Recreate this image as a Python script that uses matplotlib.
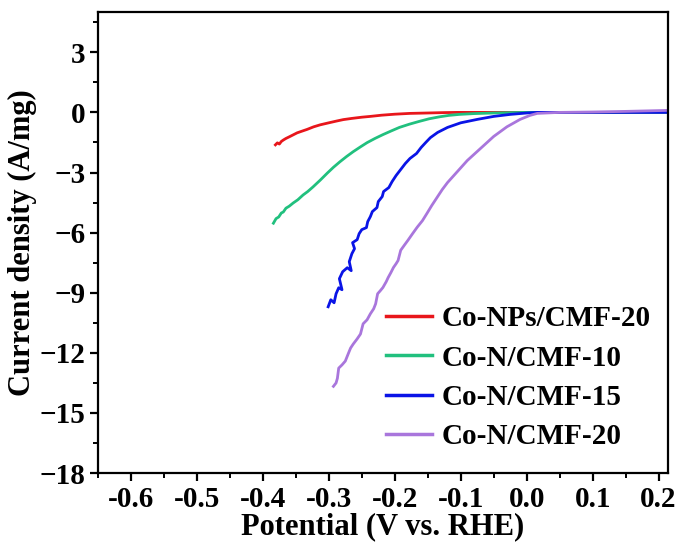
import numpy as np
import matplotlib
matplotlib.use("Agg")
import matplotlib.pyplot as plt
from matplotlib.ticker import MultipleLocator

plt.rcParams['font.family'] = ['Liberation Serif', 'DejaVu Serif']
plt.rcParams['font.weight'] = 'bold'

# LSV polarisation curves, potential (V vs. RHE) and current density (A/mg)
red_v = [-0.381, -0.378, -0.375, -0.372, -0.369, -0.365, -0.360, -0.354, -0.348, -0.341,
         -0.333, -0.323, -0.313, -0.300, -0.288, -0.278, -0.265, -0.250, -0.237, -0.220,
         -0.200, -0.177, -0.150, -0.125, -0.105, -0.05, 0.0, 0.1, 0.215]
red_j = [-1.62, -1.52, -1.58, -1.45, -1.38, -1.30, -1.22, -1.12, -1.02, -0.94,
         -0.85, -0.72, -0.62, -0.52, -0.43, -0.36, -0.30, -0.24, -0.20, -0.14,
         -0.09, -0.05, -0.03, -0.01, 0.0, 0.0, 0.0, 0.0, 0.0]

green_v = [-0.384, -0.380, -0.376, -0.372, -0.369, -0.365, -0.360, -0.354, -0.347, -0.339,
           -0.332, -0.324, -0.313, -0.302, -0.293, -0.283, -0.273, -0.263, -0.252, -0.242,
           -0.230, -0.218, -0.205, -0.193, -0.178, -0.163, -0.148, -0.132, -0.118, -0.102,
           -0.08, -0.05, -0.02, 0.0, 0.1, 0.215]
green_j = [-5.53, -5.30, -5.22, -5.02, -4.97, -4.78, -4.68, -4.52, -4.36, -4.12,
           -3.95, -3.72, -3.38, -3.02, -2.74, -2.46, -2.20, -1.96, -1.72, -1.51,
           -1.30, -1.11, -0.92, -0.75, -0.59, -0.45, -0.32, -0.22, -0.15, -0.10,
           -0.06, -0.03, -0.01, 0.0, 0.0, 0.0]

blue_v = [-0.301, -0.297, -0.292, -0.289, -0.285, -0.280, -0.284, -0.279, -0.272, -0.266,
          -0.269, -0.265, -0.261, -0.264, -0.257, -0.254, -0.250, -0.243, -0.241, -0.237,
          -0.234, -0.227, -0.225, -0.219, -0.217, -0.209, -0.204, -0.198, -0.191, -0.184,
          -0.177, -0.167, -0.160, -0.153, -0.146, -0.135, -0.120, -0.100, -0.075, -0.05,
          -0.025, 0.0, 0.016, 0.1, 0.215]
blue_j = [-9.70, -9.35, -9.50, -9.05, -8.75, -8.85, -8.30, -7.95, -7.75, -7.90,
          -7.45, -7.05, -6.80, -6.50, -6.35, -6.05, -5.85, -5.75, -5.45, -5.20,
          -4.95, -4.75, -4.45, -4.20, -3.95, -3.75, -3.45, -3.15, -2.85, -2.55,
          -2.30, -2.05, -1.75, -1.50, -1.26, -1.00, -0.75, -0.52, -0.35, -0.20,
          -0.10, -0.03, 0.0, 0.0, 0.0]

purple_v = [-0.293, -0.289, -0.287, -0.285, -0.280, -0.275, -0.270, -0.267, -0.263, -0.257,
            -0.252, -0.248, -0.242, -0.237, -0.232, -0.229, -0.226, -0.222, -0.218, -0.213,
            -0.210, -0.206, -0.202, -0.198, -0.195, -0.191, -0.186, -0.180, -0.173, -0.166,
            -0.158, -0.151, -0.144, -0.136, -0.128, -0.120, -0.105, -0.090, -0.070, -0.050,
            -0.030, -0.010, 0.005, 0.016, 0.05, 0.1, 0.15, 0.215]
purple_j = [-13.67, -13.50, -13.27, -12.76, -12.60, -12.41, -12.00, -11.76, -11.56, -11.30,
            -11.06, -10.55, -10.35, -10.05, -9.80, -9.55, -9.05, -8.90, -8.74, -8.45,
            -8.24, -8.00, -7.74, -7.55, -7.39, -6.88, -6.65, -6.38, -6.05, -5.73,
            -5.40, -5.03, -4.65, -4.25, -3.85, -3.50, -2.95, -2.40, -1.80, -1.20,
            -0.72, -0.35, -0.15, -0.05, 0.0, 0.02, 0.05, 0.10]

series = [
    ("Co-NPs/CMF-20", red_v, red_j, "#e8161b"),
    ("Co-N/CMF-10", green_v, green_j, "#21c07e"),
    ("Co-N/CMF-15", blue_v, blue_j, "#0a14e6"),
    ("Co-N/CMF-20", purple_v, purple_j, "#a976dc"),
]

fig = plt.figure(figsize=(6.78, 5.54), dpi=100)
ax = fig.add_axes([0.1445, 0.146, 0.8405, 0.832])

for label, v, j, c in series:
    ax.plot(v, j, color=c, lw=2.0, label=label, solid_joinstyle='round')

ax.set_xlim(-0.65, 0.214)
ax.set_ylim(-18, 5)
ax.xaxis.set_minor_locator(MultipleLocator(0.05))
ax.yaxis.set_major_locator(MultipleLocator(3))
ax.yaxis.set_minor_locator(MultipleLocator(1.5))
ax.set_xticks(np.arange(-0.6, 0.21, 0.1))
ax.set_xticklabels(["-0.6", "-0.5", "-0.4", "-0.3", "-0.2", "-0.1", "0.0", "0.1", "0.2"])

for s in ax.spines.values():
    s.set_linewidth(1.6)
ax.tick_params(which='major', direction='out', length=6, width=1.6, labelsize=21, pad=3)
ax.tick_params(which='minor', direction='out', length=3.5, width=1.4)
ax.tick_params(top=False, right=False)

ax.set_xlabel("Potential (V vs. RHE)", fontsize=22, fontweight='bold', labelpad=0)
ax.set_ylabel("Current density (A/mg)", fontsize=22, fontweight='bold', labelpad=2)

leg = ax.legend(loc='lower right', bbox_to_anchor=(1.0, 0.012), frameon=False,
                fontsize=21, handlelength=1.6, handletextpad=0.3, labelspacing=0.42,
                borderaxespad=0.2)
for line in leg.get_lines():
    line.set_linewidth(2.5)

fig.savefig("out.png", dpi=100)
